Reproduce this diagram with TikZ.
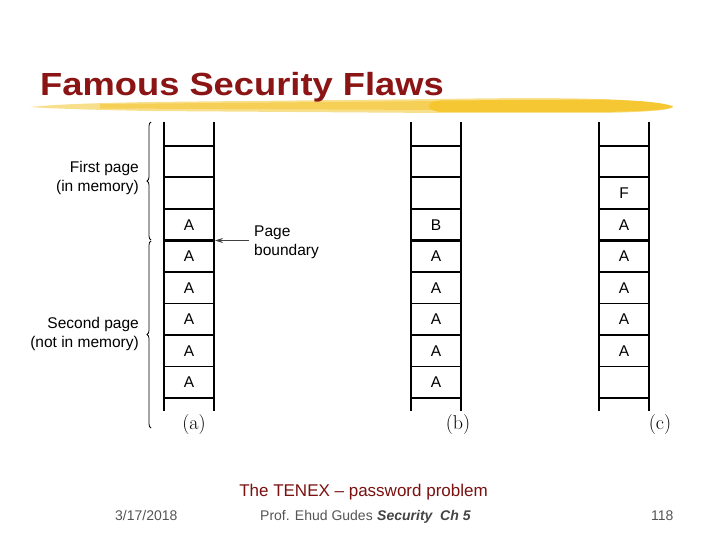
\documentclass[tikz,border=0pt]{standalone}
\usepackage{graphicx}
\usepackage{fontspec}
\newfontfamily\sansf[Ligatures=TeX]{Liberation Sans}
\usetikzlibrary{decorations.pathreplacing,arrows.meta}
\definecolor{titlered}{HTML}{8B1414}
\definecolor{footred}{HTML}{7A1010}
\definecolor{footgray}{HTML}{555555}
\definecolor{hlpale}{HTML}{F7DA78}
\definecolor{hlgold}{HTML}{F5C52A}
\begin{document}
\begin{tikzpicture}[x=1pt,y=-1pt,
  cell/.style={font=\sansf\fontsize{15.5}{18}\selectfont, inner sep=0pt, anchor=center},
  sidelbl/.style={font=\sansf\fontsize{15.5}{19}\selectfont, align=right, inner sep=0pt, anchor=east},
  blbl/.style={font=\sansf\fontsize{15.5}{19}\selectfont, align=left, inner sep=0pt, anchor=west},
  sublbl/.style={font=\fontsize{20}{24}\selectfont, inner sep=0pt, anchor=center},
  rowline/.style={line width=1.2pt},
  medline/.style={line width=2pt},
  heavyline/.style={line width=3pt},
  vline/.style={line width=1.5pt},
  bracestyle/.style={decorate, decoration={brace, amplitude=4pt}, line width=0.8pt},
  foot/.style={font=\sansf\fontsize{14}{16}\selectfont, text=footgray, inner sep=0pt, anchor=base west}
]
\useasboundingbox[fill=white] (0,0) rectangle (720,540);

% highlighter stroke
\fill[hlpale, opacity=0.85] (30,107) .. controls (60,104) and (100,103) .. (150,102)
  -- (440,99) .. controls (560,97) and (640,98) .. (673,106)
  .. controls (675,109) and (660,112) .. (600,113) -- (440,113) -- (150,111)
  .. controls (100,110) and (60,109) .. (30,107) -- cycle;
\fill[hlgold, opacity=0.55] (100,104) -- (440,101) -- (440,110) -- (100,108.5) -- cycle;
\fill[hlgold, opacity=0.9] (440,100.5) -- (600,99.5) .. controls (650,100.5) and (670,104) .. (673,107)
  .. controls (665,110.5) and (640,111.5) .. (600,112) -- (440,112)
  .. controls (425,110) and (425,102) .. (440,100.5) -- cycle;

% title
\node[anchor=base west, inner sep=0pt, text=titlered, font=\sansf\bfseries\fontsize{32}{36}\selectfont]
  (title) at (40,96) {\scalebox{1.135}[1]{Famous Security Flaws}};

% columns
\foreach \cx in {164,411,599}{
  \draw[vline] (\cx,122) -- (\cx,411);
  \draw[vline] (\cx+50,122) -- (\cx+50,411);
  \foreach \ry in {146,209,272,303.5,335,366.5}{
    \draw[rowline] (\cx,\ry) -- (\cx+50,\ry);
  }
  \draw[medline] (\cx,177.5) -- (\cx+50,177.5);
  \draw[heavyline] (\cx,240.5) -- (\cx+50,240.5);
  \draw[medline] (\cx,398) -- (\cx+50,398);
}

% column (a) contents
\node[cell] (a3) at (189,224.75) {A};
\node[cell] (a4) at (189,256.25) {A};
\node[cell] (a5) at (189,287.75) {A};
\node[cell] (a6) at (189,319.25) {A};
\node[cell] (a7) at (189,350.75) {A};
\node[cell] (a8) at (189,382.25) {A};
% column (b) contents
\node[cell] (b3) at (436,224.75) {B};
\node[cell] (b4) at (436,256.25) {A};
\node[cell] (b5) at (436,287.75) {A};
\node[cell] (b6) at (436,319.25) {A};
\node[cell] (b7) at (436,350.75) {A};
\node[cell] (b8) at (436,382.25) {A};
% column (c) contents
\node[cell] (c2) at (624,193.25) {F};
\node[cell] (c3) at (624,224.75) {A};
\node[cell] (c4) at (624,256.25) {A};
\node[cell] (c5) at (624,287.75) {A};
\node[cell] (c6) at (624,319.25) {A};
\node[cell] (c7) at (624,350.75) {A};

% braces and side labels
\draw[bracestyle] (151,240) -- (151,122);
\draw[bracestyle] (151,428) -- (151,241);
\node[sidelbl] (first) at (139,177.5) {First page\\(in memory)};
\node[sidelbl] (second) at (139,333.5) {Second page\\(not in memory)};

% page boundary
\node[blbl] (pb) at (254,242.5) {Page\\boundary};
\coordinate (bnd) at (215,240.5);
\coordinate (pbarrow) at (249,240.5);
\draw[line width=0.8pt, draw=black!75, -{Stealth[length=8pt,width=5pt]}] (pbarrow) -- (bnd);

% sub labels
\node[sublbl] (la) at (194,425) {(a)};
\node[sublbl] (lb) at (458,425) {(b)};
\node[sublbl] (lc) at (660,425) {(c)};

% footer
\node[anchor=base, inner sep=0pt, text=footred, font=\sansf\fontsize{17}{20}\selectfont]
  (cap) at (363.5,496) {The TENEX – password problem};
\node[foot] (date) at (115,520) {3/17/2018};
\node[foot] (prof) at (260,520) {Prof. Ehud Gudes};
\node[foot, font=\sansf\bfseries\itshape\fontsize{14}{16}\selectfont, text=footgray!80!black] (sec) at (377,520) {Security\ \ Ch 5};
\node[foot] (pg) at (651,520) {118};
\end{tikzpicture}
\end{document}
